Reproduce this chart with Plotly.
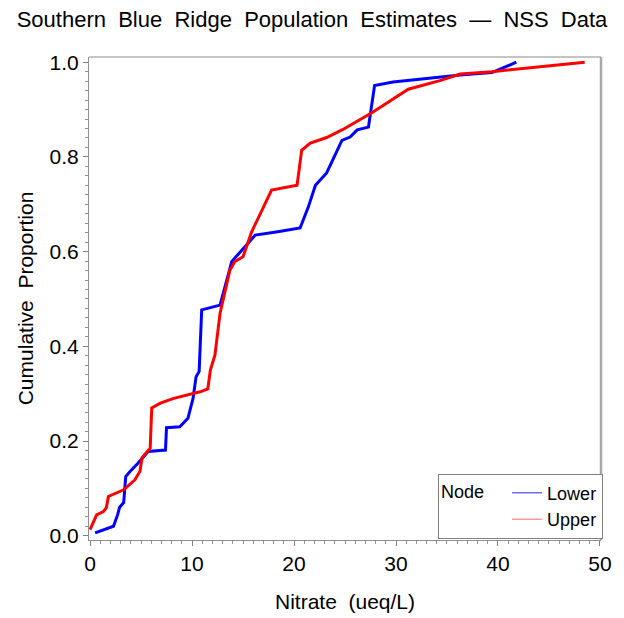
import plotly.graph_objects as go

# Lower node (blue) - cumulative distribution
lower_x = [0.5, 2.3, 2.7, 2.9, 3.3, 3.5, 3.9, 4.7, 5.7, 7.4, 7.5, 8.8, 9.6, 10.1, 10.4, 10.7,
           10.95, 12.75, 13.9, 15.4, 16.2, 18.4, 20.6, 21.4, 22.1, 23.2, 24.7, 25.5, 26.2,
           27.3, 27.9, 29.7, 34.3, 36.3, 39.4, 41.8]
lower_p = [0.006, 0.02, 0.044, 0.06, 0.07, 0.125, 0.135, 0.153, 0.178, 0.181, 0.228, 0.23,
           0.248, 0.29, 0.336, 0.347, 0.477, 0.487, 0.579, 0.617, 0.635, 0.642, 0.650, 0.694,
           0.74, 0.766, 0.835, 0.842, 0.857, 0.863, 0.951, 0.958, 0.968, 0.973, 0.978, 1.0]

# Upper node (red)
upper_x = [0.0, 0.65, 1.3, 1.6, 1.8, 2.9, 3.3, 4.4, 4.9, 5.1, 5.6, 5.9, 6.05, 6.9, 8.2, 9.5,
           10.8, 11.55, 11.8, 12.25, 12.75, 13.7, 14.2, 15.0, 15.85, 17.8, 20.3, 20.75, 21.6,
           23.2, 24.8, 27.75, 31.2, 34.3, 36.3, 39.4, 48.5]
upper_p = [0.013, 0.044, 0.051, 0.059, 0.083, 0.093, 0.097, 0.118, 0.136, 0.165, 0.178, 0.185,
           0.27, 0.28, 0.29, 0.297, 0.304, 0.31, 0.35, 0.382, 0.47, 0.56, 0.579, 0.589, 0.642,
           0.73, 0.74, 0.814, 0.829, 0.841, 0.858, 0.895, 0.943, 0.961, 0.975, 0.98, 1.0]

x_ticks = [0, 10, 20, 30, 40, 50]
y_ticks = [0.0, 0.2, 0.4, 0.6, 0.8, 1.0]
y_tick_text = ["0.0", "0.2", "0.4", "0.6", "0.8", "1.0"]

FONT = "Liberation Sans, Arial, sans-serif"

fig = go.Figure()
fig.add_trace(go.Scatter(x=lower_x, y=lower_p, mode="lines", name="Lower",
                         line=dict(color="#0000ff", width=3), showlegend=False))
fig.add_trace(go.Scatter(x=upper_x, y=upper_p, mode="lines", name="Upper",
                         line=dict(color="#ff0000", width=3), showlegend=False))
# legend-only entries with thin lines
fig.add_trace(go.Scatter(x=[None], y=[None], mode="lines", name="Lower",
                         line=dict(color="#6a6aff", width=1.5)))
fig.add_trace(go.Scatter(x=[None], y=[None], mode="lines", name="Upper",
                         line=dict(color="#ff9a9a", width=1.5)))

fig.update_layout(
    width=624, height=618,
    margin=dict(l=89, r=23, t=57, b=78),
    paper_bgcolor="white", plot_bgcolor="white",
    font=dict(family=FONT, color="black", size=21),
    title=dict(text="Southern  Blue  Ridge  Population  Estimates  —  NSS  Data",
               x=0.5, xanchor="center", y=0.968, yanchor="middle",
               font=dict(size=22, family=FONT)),
    showlegend=True,
    legend=dict(
        title=dict(text="Node   ", side="left", font=dict(size=18)),
        font=dict(size=18),
        x=1.004, xanchor="right", y=0.003, yanchor="bottom",
        bordercolor="#808080", borderwidth=1, bgcolor="white",
        tracegroupgap=0, itemwidth=30,
    ),
    xaxis=dict(
        range=[-0.1, 50.1], tickvals=x_ticks, ticks="outside", ticklen=5, tickcolor="#808080",
        showline=True, linecolor="#909090", linewidth=1, showgrid=False, zeroline=False,
        tickfont=dict(size=21), automargin=False,
        minor=dict(dtick=1, tick0=0, ticks="outside", ticklen=3, tickcolor="#909090", showgrid=False),
        title=dict(text="Nitrate  (ueq/L)", font=dict(size=21), standoff=20),
    ),
    yaxis=dict(
        range=[-0.009, 1.011], tickvals=y_ticks, ticktext=y_tick_text, ticks="outside", ticklen=5,
        tickcolor="#808080", automargin=False,
        showline=True, linecolor="#909090", linewidth=1, showgrid=False, zeroline=False,
        tickfont=dict(size=21),
        minor=dict(dtick=0.02, tick0=0, ticks="outside", ticklen=3, tickcolor="#909090", showgrid=False),
        title=dict(text="Cumulative  Proportion", font=dict(size=21), standoff=10),
    ),
    shapes=[
        dict(type="line", xref="paper", yref="paper", x0=0, x1=1, y0=1, y1=1,
             line=dict(color="#c4c4c4", width=2)),
        dict(type="line", xref="paper", yref="paper", x0=1, x1=1, y0=0, y1=1,
             line=dict(color="#a8a8a8", width=2.5)),
    ],
)

fig.write_html("out.html")
